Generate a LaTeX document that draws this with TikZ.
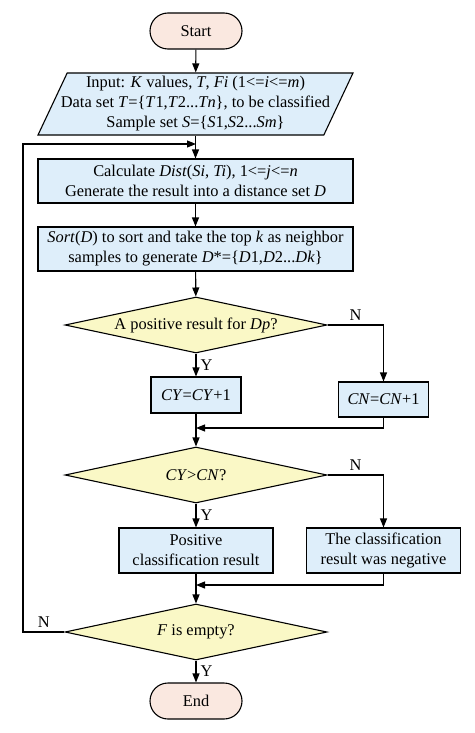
\documentclass[tikz,border=0pt]{standalone}
\usepackage{fontspec}
\setmainfont{Liberation Serif}
\usetikzlibrary{shapes.geometric,arrows.meta}
\definecolor{termfill}{RGB}{250,232,224}
\definecolor{boxfill}{RGB}{222,238,250}
\definecolor{decfill}{RGB}{250,248,198}
\begin{document}
\begin{tikzpicture}[x=1pt,y=-1pt,
  font=\fontsize{16.4}{20}\selectfont, line width=1.1pt,
  term/.style={draw, fill=termfill, rounded corners=18pt, minimum width=92pt, minimum height=36pt, inner sep=0pt},
  proc/.style={draw, fill=boxfill, align=center, inner sep=0pt},
  dec/.style={draw, fill=decfill, diamond, aspect=4.7, inner sep=0pt, minimum width=262pt, minimum height=56pt},
  io/.style={draw, fill=boxfill, trapezium, trapezium left angle=62, trapezium right angle=118, trapezium stretches body, minimum width=315pt, minimum height=62pt, inner sep=0pt, align=center},
  arr/.style={-{Triangle[length=9pt,width=7pt]}},
  lbl/.style={inner sep=4pt}]
\useasboundingbox (0,0) rectangle (474,733);
\node[term] (start) at (196,31) {Start};
\node[io] (input) at (195.5,104) {\makebox[0pt]{Input: \textit{K} values, \textit{T}, \textit{Fi} (1<=\textit{i}<=\textit{m})}\\
  \makebox[0pt]{Data set \textit{T}=\{\textit{T}1,\textit{T}2...\textit{Tn}\}, to be classified}\\
  \makebox[0pt]{Sample set \textit{S}=\{\textit{S}1,\textit{S}2...\textit{Sm}\}}};
\node[proc, minimum width=315pt, minimum height=44pt] (calc) at (195.5,181) {Calculate \textit{Dist}(\textit{Si}, \textit{Ti}), 1<=\textit{j}<=\textit{n}\\Generate the result into a distance set \textit{D}};
\node[proc, minimum width=315pt, minimum height=44pt] (sort) at (195.5,249) {\textit{Sort}(\textit{D}) to sort and take the top \textit{k} as neighbor\\samples to generate \textit{D}*=\{\textit{D}1,\textit{D}2...\textit{Dk}\}};
\node[dec] (d1) at (196,325) {A positive result for \textit{Dp}?};
\node[proc, minimum width=90pt, minimum height=36pt] (cy) at (196,395) {\textit{CY}=\textit{CY}+1};
\node[proc, minimum width=90pt, minimum height=35pt] (cn) at (383.5,399.5) {\textit{CN}=\textit{CN}+1};
\coordinate (m1) at (196,428);
\node[dec] (d2) at (196,475) {\textit{CY}>\textit{CN}?};
\node[proc, minimum width=154pt, minimum height=45pt] (pos) at (196,550.5) {Positive\\classification result};
\node[proc, minimum width=154pt, minimum height=45pt] (neg) at (383.5,550.5) {The classification\\result was negative};
\coordinate (m2) at (196,585);
\node[dec] (d3) at (196,632) {\textit{F} is empty?};
\node[term] (end) at (196,701) {End};
\coordinate (j) at (196,144);
\coordinate (lp) at (23,632);
\draw[arr] (start) -- (input);
\draw[arr] (input) -- (calc);
\draw[arr] (calc) -- (sort);
\draw[arr] (sort) -- (d1);
\draw[arr] (d1) -- node[right,lbl]{Y} (cy);
\draw[arr] (d1.east) -| node[pos=0.25,above,lbl]{N} (cn.north);
\draw[arr] (cy) -- (d2);
\draw[arr] (cn.south) |- (m1);
\draw[arr] (d2) -- node[right,lbl]{Y} (pos);
\draw[arr] (d2.east) -| node[pos=0.25,above,lbl]{N} (neg.north);
\draw[arr] (pos) -- (d3);
\draw[arr] (neg.south) |- (m2);
\draw[arr] (d3) -- node[right,lbl]{Y} (end);
\draw[arr] (d3.west) -- node[above,lbl]{N} (lp) |- (j);
\end{tikzpicture}
\end{document}
